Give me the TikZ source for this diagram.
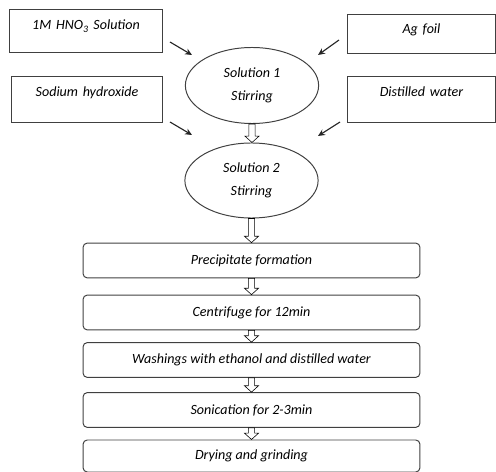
\documentclass[tikz,border=0pt]{standalone}
\usepackage{fontspec}
\setmainfont{Carlito}
\usetikzlibrary{shapes.geometric,arrows.meta,calc}

\begin{document}
\begin{tikzpicture}[x=0.025cm,y=-0.025cm,
  src/.style={draw=black!75,line width=0.7pt,inner sep=0pt,align=center,font=\itshape\fontsize{10}{12}\selectfont},
  mix/.style={ellipse,draw=black!75,line width=0.7pt,inner sep=0pt,minimum width=3.33cm,minimum height=1.9cm,
    align=center,font=\itshape\fontsize{10}{16.5}\selectfont},
  stepbox/.style={rectangle,rounded corners=3pt,draw=black!75,line width=0.7pt,minimum width=8.42cm,minimum height=0.87cm,
    inner sep=0pt,font=\itshape\fontsize{10}{12}\selectfont},
  feed/.style={draw=black!85,line width=0.8pt,-{Stealth[length=5pt,width=4.5pt]}},
  flow/.style={draw=black!75,line width=0.6pt,fill=white,
    to path={let \p1=(\tikztostart), \p2=(\tikztotarget) in
      (\x1-2.2pt,\y1) -- (\x1+2.2pt,\y1) -- (\x1+2.2pt,\y2+4.5pt) -- (\x1+5pt,\y2+4.5pt) -- (\x1,\y2)
      -- (\x1-5pt,\y2+4.5pt) -- (\x1-2.2pt,\y2+4.5pt) -- cycle}}]
  \useasboundingbox (0,0) rectangle (496,472);
  % inputs
  \node[src,text width=3.8cm,text height=0.5cm,text depth=0.55cm] (hno) at (86,31) {1M HNO\textsubscript{3} Solution};
  \node[src,text width=3.75cm,text height=0.5cm,text depth=0.625cm] (naoh) at (87,99.5) {Sodium hydroxide};
  \node[src,text width=3.7cm,text height=0.48cm,text depth=0.495cm] (ag) at (421.5,33.5) {Ag foil};
  \node[src,text width=3.68cm,text height=0.5cm,text depth=0.625cm] (dw) at (421.5,99.5) {Distilled water};
  % mixing
  \node[mix] (sol1) at (252,85.5) {Solution 1\\Stirring};
  \node[mix,minimum height=1.875cm] (sol2) at (251.5,180.5) {Solution 2\\Stirring};
  % steps
  \node[stepbox] (ppt) at (251.5,260.5) {Precipitate formation};
  \node[stepbox] (cen) at (251.5,312.5) {Centrifuge for 12min};
  \node[stepbox] (wash) at (251.5,360) {Washings with ethanol and distilled water};
  \node[stepbox] (son) at (251.5,410) {Sonication for 2-3min};
  \node[stepbox,minimum height=0.8cm] (dry) at (251.5,456) {Drying and grinding};
  % feed arrows
  \foreach \n/\xa/\ya/\xb/\yb in {a/170/42/192/55, b/170/122/192/135, c/339/40/318/55, d/340/122/318/136} {
    \coordinate (f\n) at (\xa,\ya); \coordinate (t\n) at (\xb,\yb);
    \draw[feed] (f\n) -- (t\n); }
  % flow arrows
  \draw (sol1.south) to[flow] (sol2.north);
  \draw (sol2.south) to[flow] (ppt.north);
  \draw (ppt.south) to[flow] (cen.north);
  \draw (cen.south) to[flow] (wash.north);
  \draw (wash.south) to[flow] (son.north);
  \draw (son.south) to[flow] (dry.north);
\end{tikzpicture}
\end{document}
